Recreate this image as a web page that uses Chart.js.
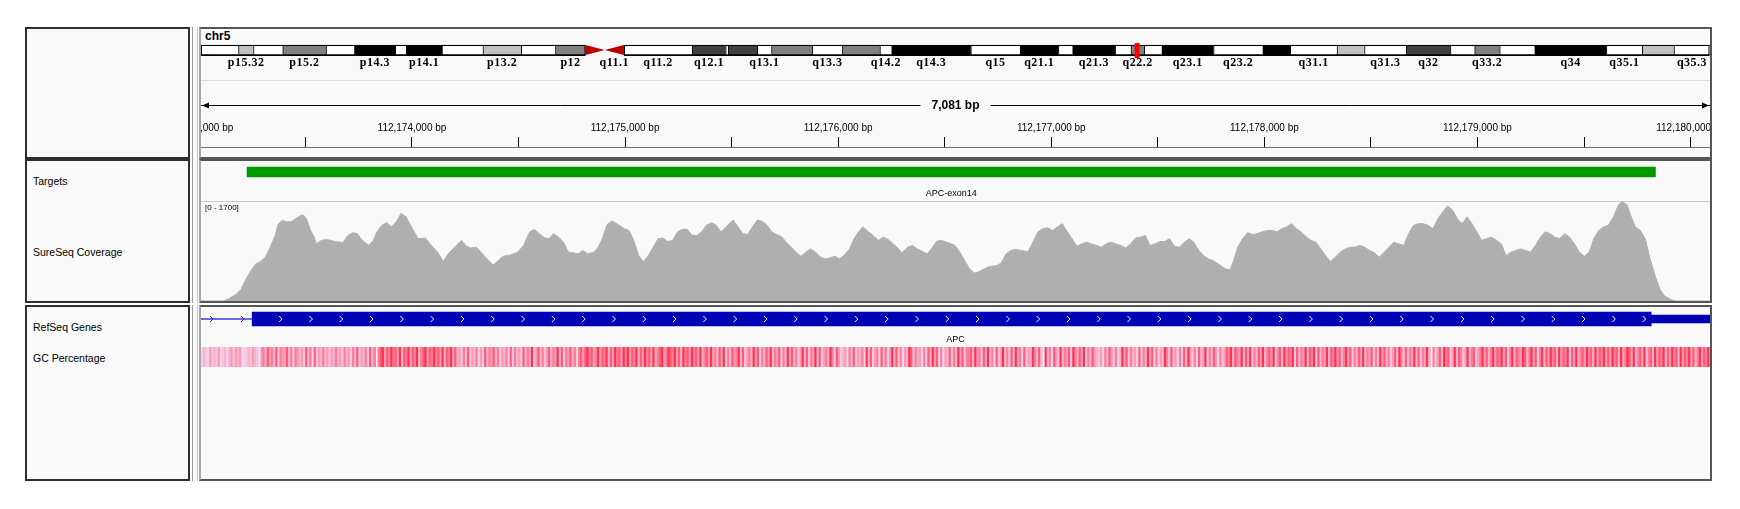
<!DOCTYPE html>
<html>
<head>
<meta charset="utf-8">
<script src="https://cdn.jsdelivr.net/npm/chart.js@4.4.1/dist/chart.umd.min.js"></script>
<style>
  body { margin: 0; background: #fff; width: 1740px; height: 509px; overflow: hidden; font-family: "Liberation Sans", Arial, sans-serif; }
  #wrap { position: relative; width: 1740px; height: 509px; }
  .box { position: absolute; box-sizing: border-box; background: #f9f9f9; }
  .name { border: 2px solid #2e2e2e; }
  .strip { border-left: 1px solid #9c9c9c; border-right: 1px solid #c4c4c4; }
  .data { border: 2px solid #555; border-left-color: #a6a6a6; }
  .lbl { position: absolute; font-size: 10.5px; line-height: 12px; color: #000; white-space: nowrap; }
  .rule { position: absolute; height: 1px; }
  canvas { position: absolute; }
</style>
</head>
<body>
<div id="wrap"></div>
<script>
// ---- data ----
const CHROM = "chr5";
const CHROM_LENGTH = 180915260;
const bandNames = ["p15.33","p15.32","p15.31","p15.2","p15.1","p14.3","p14.2","p14.1","p13.3","p13.2","p13.1","p12","p11",
  "q11.1","q11.2","q12.1","q12.2","q12.3","q13.1","q13.2","q13.3","q14.1","q14.2","q14.3","q15","q21.1","q21.2","q21.3",
  "q22.1","q22.2","q22.3","q23.1","q23.2","q23.3","q31.1","q31.2","q31.3","q32","q33.1","q33.2","q33.3","q34","q35.1","q35.2","q35.3"];
const bandStarts = [0,4500000,6300000,9800000,15000000,18400000,23300000,24600000,28900000,33800000,38400000,42500000,46100000,
  48400000,50700000,58900000,62900000,63200000,66700000,68400000,73300000,76900000,81400000,82800000,92300000,98200000,102800000,104500000,
  109600000,111500000,113100000,115200000,121400000,127300000,130600000,136200000,139500000,144500000,149800000,152700000,155700000,159900000,168500000,172800000,176600000];
const bandEnds = [4500000,6300000,9800000,15000000,18400000,23300000,24600000,28900000,33800000,38400000,42500000,46100000,48400000,
  50700000,58900000,62900000,63200000,66700000,68400000,73300000,76900000,81400000,82800000,92300000,98200000,102800000,104500000,109600000,
  111500000,113100000,115200000,121400000,127300000,130600000,136200000,139500000,144500000,149800000,152700000,155700000,159900000,168500000,172800000,176600000,180915260];
const bandStains = ["gneg","gpos25","gneg","gpos50","gneg","gpos100","gneg","gpos100","gneg","gpos25","gneg","gpos50","acen",
  "acen","gneg","gpos75","gneg","gpos75","gneg","gpos50","gneg","gpos50","gneg","gpos100","gneg","gpos100","gneg","gpos100",
  "gneg","gpos50","gneg","gpos100","gneg","gpos100","gneg","gpos25","gneg","gpos75","gneg","gpos50","gneg","gpos100","gneg","gpos25","gneg"];
const shownBandLabels = ["p15.32","p15.2","p14.3","p14.1","p13.2","p12","q11.1","q11.2","q12.1","q13.1","q13.3","q14.2","q14.3",
  "q15","q21.1","q21.3","q22.2","q23.1","q23.2","q31.1","q31.3","q32","q33.2","q34","q35.1","q35.3"];

const VIEW_START = 112173010;
const VIEW_END = 112180091;
const TICK_STEP = 500;
const LABEL_STEP = 1000;

const trackNames = ["Targets", "SureSeq Coverage", "RefSeq Genes", "GC Percentage"];

const targetName = "APC-exon14";
const targetStart = 112173226;
const targetEnd = 112179835;

const COV_MAX = 1700;
const covPos = [112173005,112173114,112173141,112173176,112173198,112173221,112173244,112173267,112173289,112173312,112173335,112173358,
  112173373,112173392,112173414,112173437,112173460,112173487,112173505,112173524,112173540,112173551,112173574,112173596,112173619,
  112173642,112173676,112173699,112173722,112173744,112173767,112173797,112173819,112173835,112173858,112173881,112173903,112173926,
  112173949,112173972,112173994,112174029,112174063,112174085,112174120,112174147,112174170,112174192,112174211,112174233,112174252,
  112174274,112174302,112174324,112174352,112174381,112174404,112174427,112174461,112174495,112174524,112174552,112174574,112174597,
  112174624,112174643,112174665,112174688,112174711,112174734,112174756,112174779,112174802,112174825,112174852,112174870,112174893,
  112174916,112174938,112174961,112174995,112175018,112175041,112175064,112175086,112175109,112175132,112175155,112175177,112175200,
  112175223,112175246,112175268,112175291,112175314,112175337,112175359,112175382,112175405,112175427,112175450,112175473,112175507,
  112175530,112175553,112175575,112175598,112175621,112175644,112175666,112175689,112175712,112175735,112175757,112175780,112175803,
  112175825,112175848,112175871,112175894,112175916,112175939,112175962,112175985,112176007,112176030,112176053,112176076,112176098,
  112176117,112176139,112176167,112176189,112176212,112176235,112176258,112176280,112176299,112176326,112176349,112176371,112176394,
  112176417,112176440,112176462,112176485,112176508,112176531,112176548,112176571,112176594,112176617,112176639,112176662,112176685,
  112176708,112176742,112176765,112176788,112176811,112176834,112176857,112176891,112176914,112176937,112176960,112176983,112177006,
  112177029,112177051,112177074,112177097,112177120,112177143,112177166,112177189,112177212,112177235,112177257,112177280,112177303,
  112177326,112177349,112177372,112177395,112177418,112177441,112177463,112177486,112177509,112177532,112177555,112177578,112177601,
  112177624,112177647,112177669,112177692,112177715,112177738,112177761,112177784,112177807,112177830,112177841,112177853,112177875,
  112177898,112177921,112177944,112177967,112177990,112178013,112178036,112178059,112178081,112178104,112178127,112178150,112178173,
  112178196,112178219,112178242,112178265,112178287,112178310,112178333,112178356,112178379,112178402,112178425,112178448,112178471,
  112178493,112178516,112178539,112178562,112178585,112178608,112178631,112178654,112178677,112178699,112178722,112178745,112178768,
  112178791,112178814,112178837,112178860,112178883,112178905,112178928,112178951,112178974,112178997,112179020,112179043,112179066,
  112179089,112179112,112179134,112179157,112179180,112179203,112179226,112179249,112179272,112179295,112179318,112179340,112179363,
  112179386,112179409,112179432,112179455,112179478,112179501,112179524,112179546,112179569,112179592,112179615,112179638,112179661,
  112179679,112179702,112179718,112179741,112179764,112179787,112179810,112179833,112179856,112179878,112179913,112179935,112180091];
const covVal = [0,0,40,115,200,370,515,630,670,745,915,1115,
  1315,1370,1345,1355,1415,1470,1400,1200,1100,970,1030,1045,1030,
  1010,990,1115,1160,1145,1030,945,1030,1175,1285,1335,1260,1345,
  1490,1430,1285,1060,1070,970,830,670,800,885,955,1030,945,
  900,915,830,715,610,685,760,780,830,945,1175,1215,1145,
  1070,1060,1145,1085,1000,830,820,800,860,800,830,885,1060,
  1300,1360,1315,1230,1200,1030,770,670,770,915,1060,1070,1010,
  1030,1175,1220,1220,1115,1115,1175,1290,1330,1290,1175,1260,1375,
  1260,1145,1130,1260,1375,1355,1290,1175,1130,1090,1000,915,830,
  760,830,885,830,745,715,730,760,715,785,885,1070,1185,
  1260,1185,1100,1030,1085,1045,970,900,820,915,945,885,845,
  800,900,1015,1030,1000,970,945,830,685,545,475,500,545,
  585,600,645,800,860,875,860,840,1000,1175,1230,1245,1200,
  1260,1315,1185,1060,930,970,1000,970,945,915,970,1000,970,
  945,900,970,1070,1085,1115,945,970,1010,1010,1060,930,915,
  1000,1060,1000,860,770,715,685,630,570,530,545,660,915,
  1060,1160,1130,1145,1175,1200,1200,1175,1230,1260,1315,1230,1175,
  1090,1030,1000,885,775,670,745,830,885,915,915,945,915,
  860,820,745,830,915,1000,970,945,1145,1285,1315,1315,1285,
  1230,1400,1515,1620,1545,1400,1315,1430,1315,1175,1030,1060,1085,
  1030,970,770,830,860,885,860,830,945,1085,1175,1145,1085,
  1060,1145,1085,970,830,760,830,1060,1200,1260,1290,1430,1630,
  1690,1630,1460,1260,1200,1060,715,430,200,85,15,0,0];

const geneName = "APC";
const geneStart = 112043195;
const geneEnd = 112181936;
const exonStart = 112173250;
const cdsEnd = 112179815;
const exonEnd = 112181936;

const GC_WINDOW = 10;
const gcLevels = (
  "354364546345356465633454654" + "0" + "67586758476685747656485738465756" +
  "4657564756475846574857" + "0" + "7896879786958796879578968797869587968" +
  "56475846573648576857465738475648576946857468576958476857" + "0" + "786" +
  "897867968795869786979687958697869578967987968597869786957869" +
  "675869475867958467596847586957684759685746958476958467597486" +
  "456375846573958467385746958473659847563748596847365847596847" +
  "785967486957384695748596738465975840957386495768497586947586" +
  "546375864735968475638475968473659748563748596473856947586374" +
  "687958769586947586957869478596879485769587948576958796857968" +
  "475869576847596857468597485769584769507468597846958746957846" +
  "796857968796847958769857968479586978596879486957869785968796" +
  "869785967986957869478596879586978596879685796879586978697869"
).split("").map(Number);

// ---- layout ----
const DX = 201, DW = 1509;
const FONT = '"Liberation Sans", Arial, sans-serif';
const wrap = document.getElementById("wrap");

function addEl(cls, l, t, w, h, css) {
  const d = document.createElement("div");
  d.className = cls;
  Object.assign(d.style, { left: l + "px", top: t + "px", width: w + "px", height: h + "px" }, css || {});
  wrap.appendChild(d);
  return d;
}
function addCanvas(l, t, w, h) {
  const c = document.createElement("canvas");
  c.width = w; c.height = h;
  c.style.left = l + "px"; c.style.top = t + "px";
  wrap.appendChild(c);
  return c;
}
function addText(txt, l, t, css) {
  const d = document.createElement("div");
  d.className = "lbl";
  d.textContent = txt;
  Object.assign(d.style, { left: l + "px", top: t + "px" }, css || {});
  wrap.appendChild(d);
}

[[27, 132], [159, 144], [305, 176]].forEach(([t, h]) => {
  addEl("box name", 25, t, 165, h);
  addEl("box strip", 192, t, 6, h);
  addEl("box data", 199, t, 1513, h);
});
addEl("rule", DX, 80, DW, 1, { background: "#dadada" });
addEl("rule", DX, 147, DW, 1, { background: "#707070" });
addEl("rule", DX, 201, DW, 1, { background: "#c9c9dc" });

addText(CHROM, 205, 29, { fontWeight: "bold", fontSize: "12px", lineHeight: "14px" });
addText(trackNames[0], 33, 175);
addText(trackNames[1], 33, 246);
addText(trackNames[2], 33, 321);
addText(trackNames[3], 33, 352);

const stainColor = { gneg: "#ffffff", gpos25: "#c0c0c0", gpos50: "#808080", gpos75: "#404040", gpos100: "#000000" };

function baseOptions(extra) {
  return Object.assign({
    responsive: false,
    animation: false,
    devicePixelRatio: 1,
    events: [],
    plugins: { legend: { display: false }, tooltip: { enabled: false } },
  }, extra);
}

// ---- ideogram ----
const ideoIdx = bandNames.map((n, i) => i).filter(i => bandStains[i] !== "acen");
const ideogramPlugin = {
  id: "ideogramExtras",
  afterDatasetsDraw(chart) {
    const { ctx } = chart;
    const x = chart.scales.x, yc = chart.scales.y.getPixelForValue(0);
    const top = yc - 5, bot = yc + 5;
    const acen = bandNames.map((n, i) => i).filter(i => bandStains[i] === "acen");
    const a = x.getPixelForValue(bandStarts[acen[0]]);
    const m = x.getPixelForValue(bandEnds[acen[0]]);
    const b = x.getPixelForValue(bandEnds[acen[1]]);
    ctx.save();
    ctx.fillStyle = "#b80000";
    ctx.beginPath(); ctx.moveTo(a, top); ctx.lineTo(m, yc); ctx.lineTo(a, bot); ctx.closePath(); ctx.fill();
    ctx.beginPath(); ctx.moveTo(b, top); ctx.lineTo(m, yc); ctx.lineTo(b, bot); ctx.closePath(); ctx.fill();
    ctx.strokeStyle = "#000"; ctx.lineWidth = 1;
    ctx.strokeRect(x.getPixelForValue(0) + 0.5, top + 0.5, a - x.getPixelForValue(0) - 1, 10);
    ctx.strokeRect(b + 0.5, top + 0.5, x.getPixelForValue(CHROM_LENGTH) - b - 1.5, 10);
    // current-view marker sits over the outline
    const vx = x.getPixelForValue(VIEW_START);
    ctx.fillStyle = "#ff0000";
    ctx.fillRect(vx - 2, yc - 7, 5, 15);
    ctx.font = 'bold 12px "Liberation Serif", "DejaVu Serif", serif';
    ctx.letterSpacing = "0.5px";
    ctx.fillStyle = "#000";
    ctx.textAlign = "center"; ctx.textBaseline = "middle";
    shownBandLabels.forEach(name => {
      const i = bandNames.indexOf(name);
      ctx.fillText(name, x.getPixelForValue((bandStarts[i] + bandEnds[i]) / 2), yc + 13);
    });
    ctx.restore();
  }
};
new Chart(addCanvas(DX, 36, DW, 44), {
  type: "bar",
  data: {
    labels: [CHROM],
    datasets: [{
      data: ideoIdx.map(i => ({ x: [bandStarts[i], bandEnds[i]], y: CHROM })),
      backgroundColor: ideoIdx.map(i => stainColor[bandStains[i]]),
      borderColor: "#000",
      borderWidth: { left: 1, right: 0, top: 1, bottom: 1 },
      borderSkipped: false,
      barThickness: 10,
    }],
  },
  options: baseOptions({
    indexAxis: "y",
    layout: { padding: { bottom: 16 } },
    scales: {
      x: { type: "linear", min: 0, max: CHROM_LENGTH, display: false },
      y: { display: false },
    },
  }),
  plugins: [ideogramPlugin],
});

// ---- ruler ----
// grid lines of a 10px-high chart area act as the tick marks; labels and span arrow drawn from the scale
const bpLabel = v => v.toLocaleString("en-US") + " bp";
const rulerPlugin = {
  id: "rulerSpan",
  afterDraw(chart) {
    const { ctx } = chart;
    const x = chart.scales.x, area = chart.chartArea;
    ctx.save();
    ctx.font = "10px " + FONT; ctx.fillStyle = "#000";
    ctx.textAlign = "center"; ctx.textBaseline = "middle";
    x.ticks.forEach(t => {
      if (t.value % LABEL_STEP === 0) ctx.fillText(bpLabel(t.value), x.getPixelForValue(t.value), area.top - 9);
    });
    const l = x.getPixelForValue(VIEW_START), r = x.getPixelForValue(VIEW_END);
    const y = 25.5;
    const txt = bpLabel(VIEW_END - VIEW_START);
    ctx.font = "bold 12px " + FONT;
    const tw = ctx.measureText(txt).width, cx = (l + r) / 2;
    ctx.strokeStyle = "#000"; ctx.lineWidth = 1;
    ctx.beginPath();
    ctx.moveTo(l, y); ctx.lineTo(cx - tw / 2 - 11, y);
    ctx.moveTo(cx + tw / 2 + 11, y); ctx.lineTo(r, y);
    ctx.stroke();
    ctx.beginPath(); ctx.moveTo(l + 1, y); ctx.lineTo(l + 8, y - 3); ctx.lineTo(l + 8, y + 3); ctx.closePath(); ctx.fill();
    ctx.beginPath(); ctx.moveTo(r - 1, y); ctx.lineTo(r - 8, y - 3); ctx.lineTo(r - 8, y + 3); ctx.closePath(); ctx.fill();
    ctx.fillText(txt, cx, y);
    ctx.restore();
  }
};
new Chart(addCanvas(DX, 80, DW, 67), {
  type: "scatter",
  data: { datasets: [{ data: [] }] },
  options: baseOptions({
    layout: { padding: { top: 57 } },
    scales: {
      x: {
        type: "linear", min: VIEW_START, max: VIEW_END,
        border: { display: false },
        grid: { color: "#000", drawTicks: false, lineWidth: 1 },
        ticks: { display: false },
        afterBuildTicks: s => {
          const t = [];
          for (let v = Math.floor(VIEW_START / LABEL_STEP) * LABEL_STEP; v <= VIEW_END; v += TICK_STEP) t.push({ value: v });
          s.ticks = t;
        },
        afterFit: s => { s.paddingLeft = 0; s.paddingRight = 0; s.height = 0; },
      },
      y: { display: false },
    },
  }),
  plugins: [rulerPlugin],
});

// ---- targets ----
function centerLabelPlugin(id, text, y, from, to) {
  return {
    id,
    afterDatasetsDraw(chart) {
      const { ctx } = chart, x = chart.scales.x;
      const a = Math.max(x.getPixelForValue(from), x.left), b = Math.min(x.getPixelForValue(to), x.right);
      ctx.save();
      ctx.font = "9px " + FONT; ctx.fillStyle = "#000";
      ctx.textAlign = "center"; ctx.textBaseline = "middle";
      ctx.fillText(text, (a + b) / 2, y);
      ctx.restore();
    }
  };
}
new Chart(addCanvas(DX, 161, DW, 40), {
  type: "bar",
  data: {
    labels: [targetName],
    datasets: [{ data: [{ x: [targetStart, targetEnd], y: targetName }], backgroundColor: "#009a00", barThickness: 10 }],
  },
  options: baseOptions({
    indexAxis: "y",
    layout: { padding: { bottom: 18 } },
    scales: { x: { type: "linear", min: VIEW_START, max: VIEW_END, display: false }, y: { display: false } },
  }),
  plugins: [centerLabelPlugin("targetLabel", targetName, 33, targetStart, targetEnd)],
});

// ---- coverage ----
const rangePlugin = {
  id: "dataRange",
  afterDraw(chart) {
    const { ctx } = chart, y = chart.scales.y;
    ctx.save();
    ctx.font = "8px " + FONT; ctx.fillStyle = "#000"; ctx.textBaseline = "middle";
    ctx.fillText("[" + y.min + " - " + y.max + "]", 4, 7);
    ctx.restore();
  }
};
new Chart(addCanvas(DX, 201, DW, 100), {
  type: "line",
  data: {
    datasets: [{
      data: covPos.map((p, i) => ({ x: p, y: covVal[i] })),
      borderColor: "#afafaf", backgroundColor: "#afafaf",
      borderWidth: 1, pointRadius: 0, tension: 0, fill: "origin",
    }],
  },
  options: baseOptions({
    scales: {
      x: { type: "linear", min: VIEW_START, max: VIEW_END, display: false },
      y: { min: 0, max: COV_MAX, display: false },
    },
  }),
  plugins: [rangePlugin],
});

// ---- gene ----
const strandPlugin = {
  id: "strandArrows",
  afterDatasetsDraw(chart) {
    const { ctx } = chart, x = chart.scales.x, yc = chart.scales.y.getPixelForValue(0);
    const bs = x.getPixelForValue(exonStart), be = x.getPixelForValue(cdsEnd);
    ctx.save();
    ctx.lineWidth = 1;
    const chev = (px, col) => {
      ctx.strokeStyle = col;
      ctx.beginPath(); ctx.moveTo(px - 2, yc - 3); ctx.lineTo(px + 1, yc); ctx.lineTo(px - 2, yc + 3); ctx.stroke();
    };
    for (let p = x.left + 11; p < bs - 4; p += 31) chev(p, "#2a2ad0");
    for (let p = bs + 29; p < be - 6; p += 30.3) chev(p, "#ffffff");
    ctx.restore();
  }
};
new Chart(addCanvas(DX, 307, DW, 40), {
  type: "bar",
  data: {
    labels: [geneName],
    datasets: [
      { data: [{ x: [exonStart, cdsEnd], y: geneName }], backgroundColor: "#0000b4", barThickness: 14, grouped: false, order: 0 },
      { data: [{ x: [cdsEnd, exonEnd], y: geneName }], backgroundColor: "#0000b4", barThickness: 8, grouped: false, order: 1 },
      { data: [{ x: [geneStart, geneEnd], y: geneName }], backgroundColor: "#3a3ad8", barThickness: 1, grouped: false, order: 2 },
    ],
  },
  options: baseOptions({
    indexAxis: "y",
    layout: { padding: { bottom: 16 } },
    scales: { x: { type: "linear", min: VIEW_START, max: VIEW_END, display: false }, y: { display: false } },
  }),
  plugins: [strandPlugin, centerLabelPlugin("geneLabel", geneName, 33, geneStart, geneEnd)],
});

// ---- GC percentage ----
function gcColor(level) {
  if (!level) return "rgba(0,0,0,0)";
  const t = Math.pow(level / 9.5, 2.2);
  const g = Math.round(226 - 196 * t);
  return "rgb(" + Math.round(245 + 10 * t) + "," + g + "," + Math.min(234, g + 26) + ")";
}
new Chart(addCanvas(DX, 347, DW, 20), {
  type: "bar",
  data: {
    labels: ["GC"],
    datasets: [{
      data: gcLevels.map((lv, i) => ({ x: [VIEW_START + i * GC_WINDOW, VIEW_START + (i + 1) * GC_WINDOW], y: "GC" })),
      backgroundColor: gcLevels.map(gcColor),
      barThickness: 20,
    }],
  },
  options: baseOptions({
    indexAxis: "y",
    scales: { x: { type: "linear", min: VIEW_START, max: VIEW_END, display: false }, y: { display: false } },
  }),
});
</script>
</body>
</html>
